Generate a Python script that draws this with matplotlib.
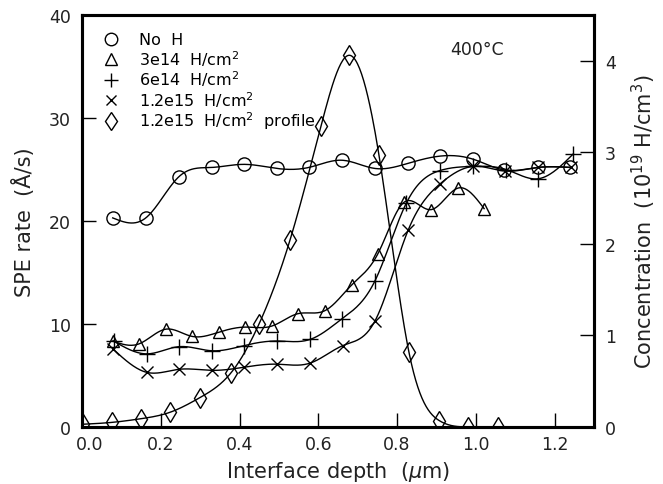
import numpy as np
import matplotlib
matplotlib.use("Agg")
import matplotlib.pyplot as plt
import matplotlib.transforms as mtransforms
from matplotlib.lines import Line2D

# ---------------- data ----------------
x_noh = [0.078, 0.162, 0.246, 0.330, 0.411, 0.495, 0.576, 0.660, 0.744, 0.828, 0.909, 0.993, 1.072, 1.158, 1.239]
y_noh = [20.3, 20.3, 24.3, 25.2, 25.5, 25.1, 25.2, 25.9, 25.1, 25.6, 26.3, 26.0, 24.95, 25.2, 25.2]

x_3e14 = [0.078, 0.144, 0.213, 0.279, 0.347, 0.414, 0.482, 0.548, 0.617, 0.685, 0.751, 0.817, 0.886, 0.955, 1.021]
y_3e14 = [8.35, 8.06, 9.5, 8.8, 9.2, 9.7, 9.8, 11.0, 11.3, 13.8, 16.8, 21.8, 21.1, 23.2, 21.2]

x_6e14 = [0.080, 0.165, 0.246, 0.330, 0.411, 0.495, 0.579, 0.660, 0.744, 0.823, 0.909, 0.993, 1.077, 1.158, 1.247]
y_6e14 = [8.35, 7.1, 7.8, 7.4, 7.9, 8.35, 8.5, 10.5, 14.2, 21.7, 24.9, 25.3, 25.0, 24.1, 26.5]

x_12e15 = [0.078, 0.165, 0.246, 0.330, 0.411, 0.495, 0.579, 0.662, 0.744, 0.828, 0.909, 0.993, 1.074, 1.158, 1.242]
y_12e15 = [7.6, 5.3, 5.6, 5.5, 5.8, 6.1, 6.2, 7.9, 10.3, 19.1, 23.6, 25.3, 24.85, 25.2, 25.2]

x_prof = [0.002, 0.075, 0.149, 0.223, 0.299, 0.378, 0.450, 0.528, 0.607, 0.678, 0.754, 0.830, 0.907, 0.980, 1.056]
y_prof = [0.03, 0.05, 0.09, 0.16, 0.32, 0.59, 1.13, 2.04, 3.29, 4.06, 2.97, 0.82, 0.07, 0.0, 0.0]

labels = ["No  H", "3e14  H/cm$^2$", "6e14  H/cm$^2$", "1.2e15  H/cm$^2$", "1.2e15  H/cm$^2$  profile"]
x_ticks = [0.0, 0.2, 0.4, 0.6, 0.8, 1.0, 1.2]
yl_ticks = [0, 10, 20, 30, 40]
yr_ticks = [0, 1, 2, 3, 4]


def natural_spline(x, y, n=400):
    x = np.asarray(x, float)
    y = np.asarray(y, float)
    m = len(x)
    h = np.diff(x)
    A = np.zeros((m, m))
    r = np.zeros(m)
    A[0, 0] = 1.0
    A[-1, -1] = 1.0
    for i in range(1, m - 1):
        A[i, i - 1] = h[i - 1]
        A[i, i] = 2 * (h[i - 1] + h[i])
        A[i, i + 1] = h[i]
        r[i] = 6 * ((y[i + 1] - y[i]) / h[i] - (y[i] - y[i - 1]) / h[i - 1])
    M = np.linalg.solve(A, r)
    xs = np.linspace(x[0], x[-1], n)
    idx = np.clip(np.searchsorted(x, xs) - 1, 0, m - 2)
    x0, x1 = x[idx], x[idx + 1]
    hh = x1 - x0
    a = (x1 - xs) / hh
    b = (xs - x0) / hh
    ys = (a * y[idx] + b * y[idx + 1]
          + ((a ** 3 - a) * M[idx] + (b ** 3 - b) * M[idx + 1]) * hh ** 2 / 6)
    return xs, ys


W, H = 663, 485
fig = plt.figure(figsize=(W / 100, H / 100), dpi=100)
ax = fig.add_axes([82 / W, 1 - 428 / H, (594 - 82) / W, (428 - 16) / H])
ax2 = ax.twinx()

lw = 1.0
series = [
    (x_noh, y_noh, 'o', 9.5),
    (x_3e14, y_3e14, '^', 9),
    (x_6e14, y_6e14, '+', 11),
    (x_12e15, y_12e15, 'x', 8),
]
for xs, ys, mk, msz in series:
    sx, sy = natural_spline(xs, ys)
    ax.plot(sx, sy, color='black', lw=lw)
    ax.plot(xs, ys, linestyle='none', marker=mk, ms=msz, mfc='none',
            mec='black', mew=1.0)

sx, sy = natural_spline(x_prof, y_prof)
ax2.plot(sx, sy, color='black', lw=lw)
ax2.plot(x_prof, y_prof, linestyle='none', marker='d', ms=10.5, mfc='none',
         mec='black', mew=1.0)

ax.set_xlim(0, 1.3)
ax.set_ylim(0, 40)
ax2.set_ylim(0, 4.5)

ax.set_xticks(x_ticks)
ax.set_xticklabels(["%.1f" % v for v in x_ticks])
ax.set_yticks(yl_ticks)
ax2.set_yticks(yr_ticks)

for a in (ax, ax2):
    for s in a.spines.values():
        s.set_linewidth(2.2)
    a.tick_params(direction='in', length=10, width=1.0, labelsize=12.5, pad=8,
                  colors='black', labelcolor='#222222')
ax.tick_params(axis='x', pad=6)

# first x tick label sits a little to the right of the spine, as in the reference
offset = mtransforms.ScaledTranslation(8 / 100, 0, fig.dpi_scale_trans)
first = ax.get_xticklabels()[0]
first.set_transform(first.get_transform() + offset)

ax.set_xlabel("Interface depth  ($\\mu$m)", fontsize=15, labelpad=4, color='#222222')
ax.set_ylabel("SPE rate  (Å/s)", fontsize=15, labelpad=10, color='#222222')
ax2.set_ylabel("Concentration  (10$^{19}$ H/cm$^3$)", fontsize=15, labelpad=10,
               color='#222222')

ax.text(0.72, 0.917, "400°C", transform=ax.transAxes, fontsize=12.5,
        ha='left', va='center', color='#222222')

handles = [
    Line2D([], [], linestyle='none', marker='o', ms=9, mfc='none', mec='black'),
    Line2D([], [], linestyle='none', marker='^', ms=9, mfc='none', mec='black'),
    Line2D([], [], linestyle='none', marker='+', ms=10, mfc='none', mec='black'),
    Line2D([], [], linestyle='none', marker='x', ms=7, mfc='none', mec='black'),
    Line2D([], [], linestyle='none', marker='d', ms=9.5, mfc='none', mec='black'),
]
ax2.legend(handles, labels, loc='upper left', bbox_to_anchor=(0.02, 0.985),
           frameon=False, fontsize=11.5, handlelength=1.0, handletextpad=1.2,
           labelspacing=0.05, borderpad=0.2)

fig.savefig("out.png", dpi=100)
